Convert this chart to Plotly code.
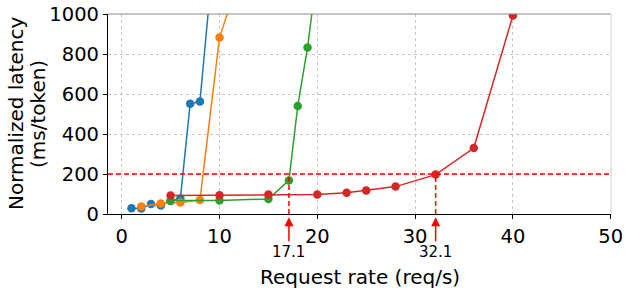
import plotly.graph_objects as go

# Data (request rate vs normalized latency)
blue_x = [1, 2, 3, 4, 5, 6, 7, 8, 9]
blue_y = [29, 27, 50, 42, 65, 78, 551, 562, 1090]
orange_x = [2, 4, 6, 8, 10, 12]
orange_y = [38, 52, 58, 70, 882, 1180]
green_x = [5, 10, 15, 17.1, 18, 19, 20]
green_y = [68, 68, 75, 168, 540, 832, 1215]
red_x = [5, 10, 15, 20, 23, 25, 28, 32.1, 36, 40]
red_y = [92, 94, 97, 98, 106, 118, 137, 197, 330, 992]

colors = ["#1f77b4", "#ff7f0e", "#2ca02c", "#d62728"]
threshold = 200
marks_x = [17.1, 32.1]
mark_labels = ["17.1", "32.1"]
x_ticks = [0, 10, 20, 30, 40, 50]
y_ticks = [0, 200, 400, 600, 800, 1000]

FONT = "DejaVu Sans"

fig = go.Figure()
for xs, ys, c in zip([blue_x, orange_x, green_x, red_x],
                     [blue_y, orange_y, green_y, red_y], colors):
    fig.add_trace(go.Scatter(x=xs, y=ys, mode="lines+markers",
                             line=dict(color=c, width=1.5),
                             marker=dict(color=c, size=8.5),
                             showlegend=False))

shapes = [
    dict(type="line", xref="paper", yref="y", x0=0, x1=1, y0=threshold, y1=threshold,
         line=dict(color="red", width=1.5, dash="5px,3px"), layer="above"),
    dict(type="line", xref="paper", yref="paper", x0=0, x1=1, y0=1, y1=1,
         line=dict(color="#8c8c8c", width=1.2), layer="above"),
    dict(type="line", xref="paper", yref="paper", x0=1, x1=1, y0=0, y1=1,
         line=dict(color="#d0d0d0", width=1), layer="above"),
]
for mx in marks_x:
    shapes.append(dict(type="line", xref="x", yref="y", x0=mx, x1=mx, y0=0, y1=threshold,
                       line=dict(color="red", width=1.5, dash="5px,3px"), layer="above"))

annotations = []
for mx, lab in zip(marks_x, mark_labels):
    annotations.append(dict(x=mx, xref="x", y=-0.0165, yref="paper", text="",
                            showarrow=True, arrowhead=2, arrowsize=1.2, arrowwidth=1.5,
                            arrowcolor="red", ax=0, ay=25.5))
    annotations.append(dict(x=mx, xref="x", y=-0.1885, yref="paper", text=lab,
                            showarrow=False, xanchor="center", yanchor="middle",
                            font=dict(family=FONT, size=15, color="black")))

annotations.append(dict(x=0.5, xref="paper", y=-0.3135, yref="paper",
                        text="Request rate (req/s)", showarrow=False,
                        xanchor="center", yanchor="middle",
                        font=dict(family=FONT, size=20, color="black")))
annotations.append(dict(x=0, xref="paper", xshift=-92, y=0.5, yref="paper",
                        text="Normalized latency", showarrow=False, textangle=-90,
                        xanchor="center", yanchor="middle",
                        font=dict(family=FONT, size=20, color="black")))
annotations.append(dict(x=0, xref="paper", xshift=-70, y=0.5, yref="paper",
                        text="(ms/token)", showarrow=False, textangle=-90,
                        xanchor="center", yanchor="middle",
                        font=dict(family=FONT, size=20, color="black")))

fig.update_layout(
    width=629, height=293,
    margin=dict(l=108, r=18, t=14, b=79, autoexpand=False),
    paper_bgcolor="white", plot_bgcolor="white",
    font=dict(family=FONT, size=19, color="black"),
    shapes=shapes, annotations=annotations,
    xaxis=dict(range=[-1.4, 50.03], tickvals=x_ticks, showline=True, linecolor="black",
               linewidth=1.2, ticks="outside", ticklen=4, tickcolor="black",
               showgrid=True, gridcolor="#c8c8c8", griddash="dot", gridwidth=1,
               zeroline=False, tickfont=dict(size=19.5), automargin=False),
    yaxis=dict(range=[0, 1000], tickvals=y_ticks, showline=True, linecolor="black",
               linewidth=1.2, ticks="outside", ticklen=4, tickcolor="black",
               showgrid=True, gridcolor="#c8c8c8", griddash="dot", gridwidth=1,
               zeroline=False, tickfont=dict(size=19.5), automargin=False),
)

fig.write_html("out.html", config={"displayModeBar": False},
               post_script="document.body.style.margin='0';document.body.style.overflow='hidden';")
